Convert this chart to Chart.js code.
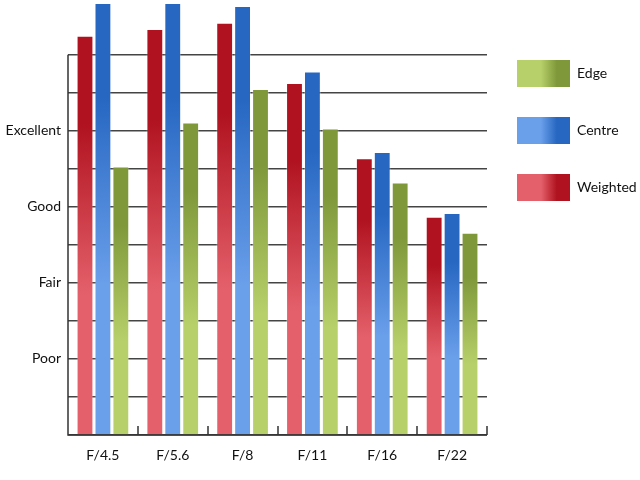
<!DOCTYPE html>
<html>
<head>
<meta charset="utf-8">
<script src="https://cdn.jsdelivr.net/npm/chart.js@4"></script>
<style>
body{margin:0;background:#fff;}
</style>
</head>
<body>
<canvas id="lensChart" width="640" height="480"></canvas>
<script>

const categories = ["F/4.5","F/5.6","F/8","F/11","F/16","F/22"];

const weighted = [5.25, 5.34, 5.42, 4.63, 3.64, 2.87];
const centre = [5.68, 5.68, 5.64, 4.78, 3.72, 2.92];
const edge = [3.53, 4.11, 4.55, 4.03, 3.32, 2.66];

const seriesNames = ["Weighted","Centre","Edge"];

const ratingValues = [1, 2, 3, 4];
const ratingLabels = ["Poor","Fair","Good","Excellent"];

const colours = [
{dark:"#b0121f", light:"#e4616b"},
{dark:"#2767c2", light:"#6a9fea"},
{dark:"#7f983a", light:"#b8d06a"}
];

const font = "Lato";


function barGradient(ctx){

const c = colours[ctx.datasetIndex];

if(ctx.type !== "data" || !ctx.chart.chartArea) return c.dark;

const y = ctx.chart.scales.y;
const top = y.getPixelForValue(ctx.parsed.y);
const bottom = y.getPixelForValue(0);

const g = ctx.chart.ctx.createLinearGradient(0, top, 0, bottom);
g.addColorStop(0, c.dark);
g.addColorStop(0.22, c.dark);
g.addColorStop(0.65, c.light);
g.addColorStop(1, c.light);

return g;

}


// legend boxes shade left to right
const legendShade = {
id:"legendShade",
beforeDraw(chart){

const legend = chart.legend;
const boxWidth = legend.options.labels.boxWidth;

legend.legendItems.forEach((item, i) => {

const hb = legend.legendHitBoxes[i];
const c = colours[item.datasetIndex];

const g = chart.ctx.createLinearGradient(hb.left, 0, hb.left + boxWidth, 0);
g.addColorStop(0, c.light);
g.addColorStop(0.45, c.light);
g.addColorStop(0.75, c.dark);
g.addColorStop(1, c.dark);

item.fillStyle = g;
item.lineWidth = 0;

});

}
};


// axis lines and the small inside ticks between categories
const axisMarks = {
id:"axisMarks",
beforeDatasetsDraw(chart){

const {ctx, chartArea, scales} = chart;
const x = scales.x;
const y = scales.y;
const y0 = y.getPixelForValue(0);
const yTop = y.getPixelForValue(5);
const step = (x.right - x.left) / categories.length;

ctx.save();
ctx.strokeStyle = "#333";
ctx.lineWidth = 1.5;

ctx.beginPath();
ctx.moveTo(chartArea.left, yTop);
ctx.lineTo(chartArea.left, y0);
ctx.lineTo(chartArea.right, y0);

for(let i = 1; i <= categories.length; i++){
const px = Math.round(x.left + step * i);
ctx.moveTo(px, y0);
ctx.lineTo(px, y0 - 9);
}

ctx.stroke();
ctx.restore();

}
};


const barStyle = {
backgroundColor:barGradient,
borderColor:"rgba(255,255,255,0.3)",
borderWidth:1,
categoryPercentage:0.77,
barPercentage:0.94
};


new Chart(document.getElementById("lensChart"), {

type:"bar",

data:{
labels:categories,
datasets:[
{label:seriesNames[0], data:weighted, ...barStyle},
{label:seriesNames[1], data:centre, ...barStyle},
{label:seriesNames[2], data:edge, ...barStyle}
]
},

options:{
responsive:false,
animation:false,
layout:{padding:0},
scales:{
x:{
grid:{display:false, drawTicks:false},
border:{display:false},
afterFit(axis){
axis.height = 45;
axis.paddingLeft = 0;
axis.paddingRight = 0;
},
ticks:{
color:"#111",
padding:12,
font:{family:font, size:14}
}
},
y:{
min:0,
max:5.72,
afterBuildTicks(axis){
axis.ticks = [];
for(let v = 0; v <= 5; v += 0.5) axis.ticks.push({value:v});
},
afterFit(axis){
axis.width = 68;
axis.paddingTop = 0;
axis.paddingBottom = 0;
},
grid:{
color:"#444",
lineWidth:1.5,
drawTicks:false
},
border:{display:false},
ticks:{
color:"#111",
padding:7,
font:{family:font, size:14},
callback(value){
const i = ratingValues.indexOf(value);
return i >= 0 ? ratingLabels[i] : "";
}
}
}
},
plugins:{
tooltip:{enabled:false},
legend:{
position:"right",
align:"start",
reverse:true,
maxWidth:153,
title:{display:true, text:" ", padding:0, font:{size:10, lineHeight:3.0}},
labels:{
boxWidth:53,
boxHeight:27,
padding:30,
color:"#111",
font:{family:font, size:14}
}
}
}
},

plugins:[legendShade, axisMarks]

});

</script>
</body>
</html>
